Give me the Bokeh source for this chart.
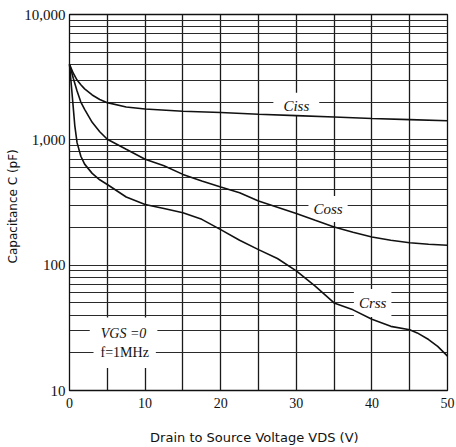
from bokeh.plotting import figure
from bokeh.models import Range1d, FixedTicker, NumeralTickFormatter, Label
from bokeh.embed import file_html
from bokeh.resources import INLINE

# ---- data ----
ciss_v = [0, 0.5, 1, 1.5, 2, 3, 4, 5, 7.5, 10, 15, 20, 25, 30, 35, 40, 45, 50]
ciss_c = [4000, 3400, 3000, 2750, 2550, 2280, 2100, 1980, 1830, 1760, 1690, 1650, 1600, 1560, 1520, 1480, 1450, 1420]

coss_v = [0, 0.5, 1, 1.5, 2, 3, 4, 5, 7.5, 10, 12.5, 15, 17.5, 20, 22.5, 25, 27.5, 30, 32.5, 35, 37.5, 40, 42.5, 45, 47.5, 50]
coss_c = [4000, 3100, 2450, 2000, 1750, 1380, 1160, 1010, 840, 700, 620, 530, 470, 420, 378, 325, 290, 258, 228, 202, 183, 168, 158, 151, 147, 144]

crss_v = [0, 0.25, 0.5, 0.7, 1, 1.5, 2, 3, 4, 5, 7.5, 10, 12.5, 15, 17.5, 20, 22.5, 25, 27.5, 30, 32.5, 35, 37.5, 40, 42.5, 45, 46, 47.5, 48.7, 50]
crss_c = [4000, 2700, 1800, 1300, 950, 740, 640, 540, 480, 440, 350, 305, 283, 262, 232, 192, 158, 133, 113, 90, 68, 50, 44, 37, 32.5, 30.5, 28.8, 25.5, 22.5, 18.8]

x_major = [0, 10, 20, 30, 40, 50]
x_minor = [5, 15, 25, 35, 45]
y_major = [10, 100, 1000, 10000]
y_minor = [m * d for d in (10, 100, 1000) for m in range(2, 10)]

SERIF = "Liberation Serif"
SANS = "DejaVu Sans"
INK = "#111111"

p = figure(width=456, height=447, output_backend="svg", toolbar_location=None,
           y_axis_type="log",
           x_range=Range1d(0, 50), y_range=Range1d(10, 10000),
           min_border_left=69, min_border_right=9, min_border_top=14, min_border_bottom=56)

p.background_fill_color = "white"
p.border_fill_color = "white"
p.outline_line_color = INK
p.outline_line_width = 1.3

p.xaxis.ticker = FixedTicker(ticks=x_major, minor_ticks=x_minor)
p.yaxis.ticker = FixedTicker(ticks=y_major, minor_ticks=y_minor)
p.yaxis.formatter = NumeralTickFormatter(format="0,0")

for ax in (p.xaxis[0], p.yaxis[0]):
    ax.axis_line_color = INK
    ax.major_tick_line_color = None
    ax.minor_tick_line_color = None
    ax.major_tick_out = 0
    ax.major_tick_in = 0
    ax.minor_tick_out = 0
    ax.minor_tick_in = 0
    ax.major_label_text_font = SERIF
    ax.major_label_text_font_size = "14px"
    ax.major_label_text_color = INK
    ax.axis_label_text_font = SANS
    ax.axis_label_text_font_size = "12px"
    ax.axis_label_text_font_style = "normal"
    ax.axis_label_text_color = INK

p.yaxis.major_label_text_font_size = "15px"
p.xaxis.axis_label = "Drain to Source Voltage  VDS  (V)"
p.xaxis.axis_label_text_font_size = "13px"
p.xaxis.major_label_standoff = 7
p.xaxis.axis_label_standoff = 19
p.yaxis.axis_label = "Capacitance  C  (pF)"
p.yaxis.major_label_standoff = 4
p.yaxis.axis_label_standoff = 1

p.xgrid.grid_line_color = "#1a1a1a"
p.xgrid.grid_line_width = 1.3
p.xgrid.minor_grid_line_color = "#1a1a1a"
p.xgrid.minor_grid_line_width = 1.3
p.ygrid.grid_line_color = "#2a2a2a"
p.ygrid.grid_line_width = 1.1
p.ygrid.minor_grid_line_color = "#2a2a2a"
p.ygrid.minor_grid_line_width = 1.1

for xs, ys in ((ciss_v, ciss_c), (coss_v, coss_c), (crss_v, crss_c)):
    r = p.line(xs, ys, line_color=INK, line_width=1.6)
    r.level = "overlay"

def add_label(x, y, text, style, size, pad):
    lab = Label(x=x, y=y, text=text, text_font=SERIF, text_font_style=style,
                text_font_size=size, text_color=INK, text_align="center",
                text_baseline="middle", background_fill_color="white",
                padding=pad)
    p.add_layout(lab)

add_label(30, 1920, "Ciss", "italic", "15px", dict(left=10, right=10, top=5, bottom=2))
add_label(34.2, 280, "Coss", "italic", "15px", dict(left=5, right=5, top=5, bottom=5))
add_label(40.1, 50, "Crss", "italic", "15px", dict(left=5, right=5, top=6, bottom=6))
add_label(7.15, 29.5, "VGS =0", "italic", "14px", dict(left=11, right=11, top=8, bottom=5))
add_label(7.3, 19.4, "f=1MHz", "normal", "14px", dict(left=7, right=7, top=4, bottom=8))

open("out.html", "w").write(file_html(p, INLINE))
